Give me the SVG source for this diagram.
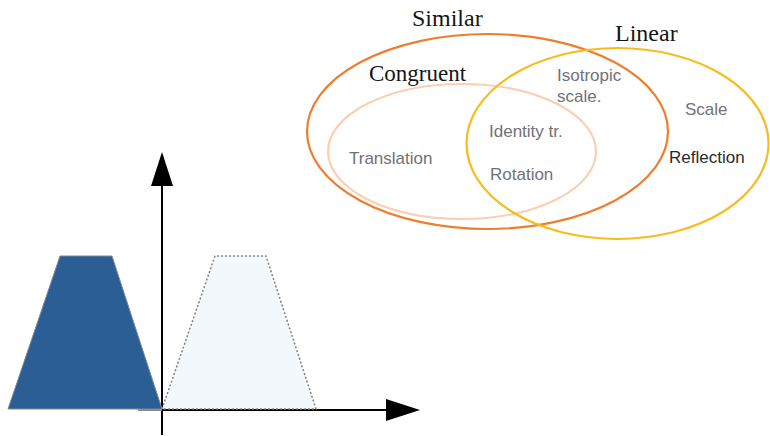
<svg xmlns="http://www.w3.org/2000/svg" width="770" height="436" viewBox="0 0 770 436">
<style>
.serif{font-family:"Liberation Serif","Times New Roman",serif;fill:#151515}
.sans{font-family:"Liberation Sans",Arial,sans-serif;font-size:17px;fill:#727079}
.dark{fill:#2a2a2a}
.set{fill:none}
</style>
<defs>
<marker id="arr" viewBox="0 0 34 22" refX="0" refY="11" markerWidth="34" markerHeight="22" markerUnits="userSpaceOnUse" orient="auto">
<path d="M0,0 L34,11 L0,22 Z" fill="#000"/>
</marker>
</defs>
<rect width="770" height="436" fill="#fff"/>
<g id="set-similar">
<ellipse class="set" cx="487.5" cy="131.5" rx="180.5" ry="97.5" stroke="#EE7D2E" stroke-width="2.2"/>
<text class="serif" x="412" y="26" font-size="24">Similar</text>
</g>
<g id="set-congruent">
<ellipse class="set" cx="462" cy="151.5" rx="134" ry="67.5" stroke="#F9D0B4" stroke-width="2.2"/>
<text class="serif" x="369" y="81" font-size="23">Congruent</text>
</g>
<g id="set-linear">
<ellipse class="set" cx="617.5" cy="143.5" rx="151" ry="95.5" stroke="#F7BC1E" stroke-width="2.2"/>
<text class="serif" x="615" y="41" font-size="24">Linear</text>
</g>
<g id="labels">
<text class="sans" x="557" y="81">Isotropic</text>
<text class="sans" x="557" y="102">scale.</text>
<text class="sans" x="685" y="115">Scale</text>
<text class="sans dark" x="669" y="163">Reflection</text>
<text class="sans" x="489" y="137">Identity tr.</text>
<text class="sans" x="490" y="180">Rotation</text>
<text class="sans" x="349" y="164">Translation</text>
</g>
<g id="connectors">
<line x1="138" y1="410" x2="386" y2="410" stroke="#000" stroke-width="2" marker-end="url(#arr)"/>
<line x1="162" y1="435" x2="162" y2="186" stroke="#000" stroke-width="2" marker-end="url(#arr)"/>
</g>
<g id="shape-original">
<polygon points="8,409 60,256 112,256 162,409" fill="#2B5E95" stroke="#7f8a96" stroke-width="1"/>
<line x1="138" y1="410" x2="162" y2="410" stroke="#8c8c8c" stroke-width="2"/>
</g>
<g id="shape-translated">
<polygon points="162,409 215,256 266,256 316,409" fill="#F3F8FC" stroke="#808080" stroke-width="1.5" stroke-dasharray="2,2"/>
</g>
</svg>
